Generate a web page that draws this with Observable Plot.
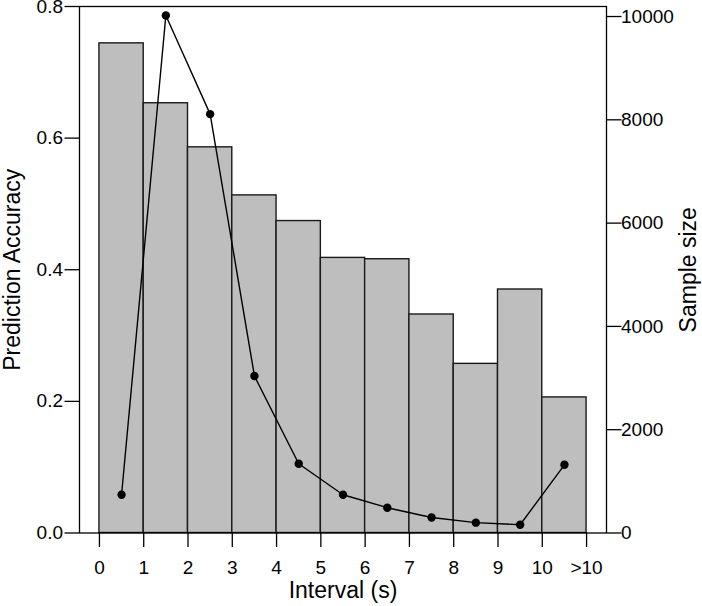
<!DOCTYPE html>
<html><head><meta charset="utf-8">
<script src="https://cdn.jsdelivr.net/npm/d3@7"></script>
<script src="https://cdn.jsdelivr.net/npm/@observablehq/plot@0.6"></script>
<style>body{margin:0;background:#fff}</style>
</head><body><div id="chart"></div>
<script>
// Data
const intervalStart = [0, 1, 2, 3, 4, 5, 6, 7, 8, 9, 10];
const accuracy = [0.744, 0.653, 0.586, 0.513, 0.474, 0.418, 0.416, 0.332, 0.257, 0.370, 0.206];
const sampleSize = [740, 10020, 8110, 3040, 1340, 740, 490, 300, 200, 160, 1320];
const xTickValues = [0, 1, 2, 3, 4, 5, 6, 7, 8, 9, 10, 11];
const xTickLabels = ["0", "1", "2", "3", "4", "5", "6", "7", "8", "9", "10", ">10"];
const accTicks = [0, 0.2, 0.4, 0.6, 0.8];
const sampleTicks = [0, 2000, 4000, 6000, 8000, 10000];
const xLabel = ["Interval (s)"];
const yLabel = ["Prediction Accuracy"];
const y2Label = ["Sample size"];

const accMax = 0.8;
const sampleMax = 10194; // sample size at top of the frame (right axis)
const k = accMax / sampleMax;

const table = intervalStart.map((s, i) => ({start: s, acc: accuracy[i], n: sampleSize[i]}));

const font = "'Liberation Sans', Arial, sans-serif";

const chart = Plot.plot({
  width: 702,
  height: 606,
  marginLeft: 79,
  marginRight: 96,
  marginTop: 6,
  marginBottom: 73.5,
  style: {fontFamily: font, fontSize: "19px", background: "white", color: "black", overflow: "visible"},
  x: {domain: [-0.45, 11.45]},
  y: {domain: [0, accMax]},
  marks: [
    Plot.rectY(table, {x1: "start", x2: d => d.start + 1, y1: 0, y2: "acc", fill: "#bebebe", stroke: "#1a1a1a", strokeWidth: 1.4}),
    Plot.line(table, {x: d => d.start + 0.5, y: d => d.n * k, stroke: "black", strokeWidth: 1.4}),
    Plot.dot(table, {x: d => d.start + 0.5, y: d => d.n * k, r: 4.2, fill: "black", stroke: "none"}),
    Plot.frame({stroke: "black", strokeWidth: 1.3}),
    Plot.axisX({ticks: xTickValues, tickFormat: d => xTickLabels[d], tickSize: 14.5, tickPadding: 12.5, fontSize: 19, label: null, strokeWidth: 1.3}),
    Plot.axisY({ticks: accTicks, tickFormat: d3.format(".1f"), anchor: "left", tickSize: 14.5, tickPadding: 2, fontSize: 19, label: null, strokeWidth: 1.3}),
    Plot.axisY({ticks: sampleTicks.map(t => t * k), tickFormat: d => String(Math.round(d / k)), anchor: "right", tickSize: 14.5, tickPadding: 0, fontSize: 19, label: null, strokeWidth: 1.3}),
    Plot.text(xLabel, {text: d => d, frameAnchor: "bottom", dy: 57.5, fontSize: 23, textAnchor: "middle", lineAnchor: "middle"}),
    Plot.text(yLabel, {text: d => d, frameAnchor: "left", dx: -67, rotate: -90, fontSize: 23, textAnchor: "middle", lineAnchor: "middle"}),
    Plot.text(y2Label, {text: d => d, frameAnchor: "right", dx: 82, rotate: -90, fontSize: 23, textAnchor: "middle", lineAnchor: "middle"})
  ]
});
document.getElementById("chart").appendChild(chart);
</script>
</body></html>
